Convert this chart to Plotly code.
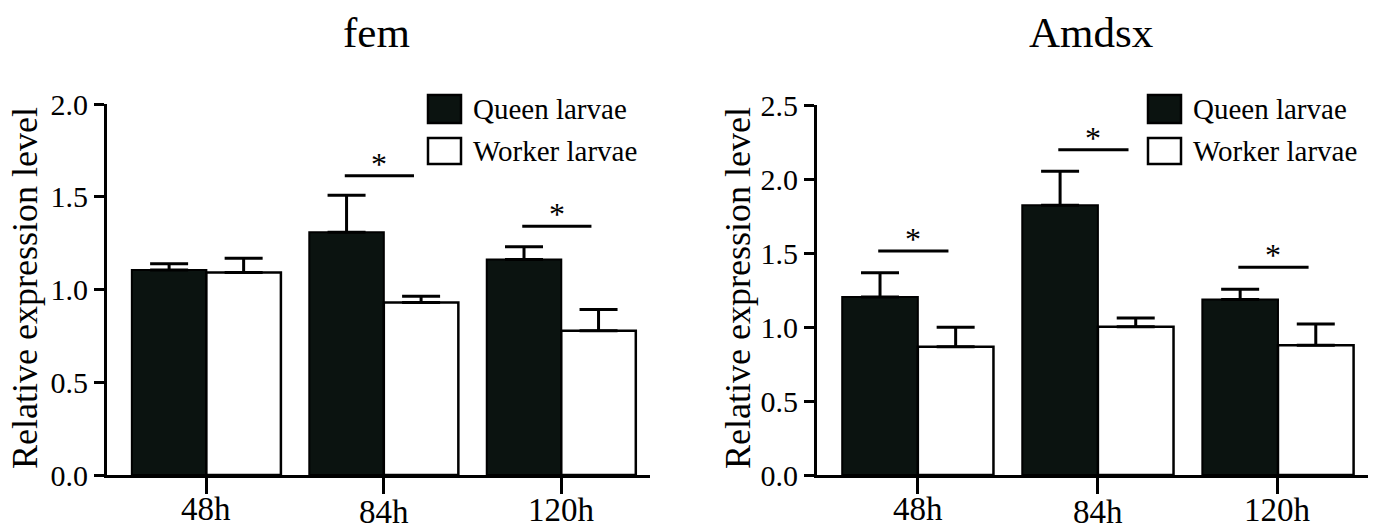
import plotly.graph_objects as go

# ---------------- data ----------------
timepoints = ["48h", "84h", "120h"]
groups = ["Queen larvae", "Worker larvae"]

fem_queen = [1.105, 1.308, 1.162]
fem_queen_err = [0.034, 0.200, 0.069]
fem_worker = [1.092, 0.930, 0.777]
fem_worker_err = [0.077, 0.034, 0.115]
fem_sig_y = [None, 1.613, 1.341]

amdsx_queen = [1.203, 1.822, 1.185]
amdsx_queen_err = [0.164, 0.230, 0.070]
amdsx_worker = [0.867, 1.002, 0.876]
amdsx_worker_err = [0.131, 0.059, 0.144]
amdsx_sig_y = [1.514, 2.198, 1.403]

fem_yticks = [0.0, 0.5, 1.0, 1.5, 2.0]
amdsx_yticks = [0.0, 0.5, 1.0, 1.5, 2.0, 2.5]

# ---------------- style ----------------
W, H = 1375, 530
FONT = "Liberation Serif"
DARK = "#0b1310"
BAR_W = 0.42
LABEL_Y = [509, 512, 510]   # pixel centres of the x tick labels
xpos = list(range(len(timepoints)))


def px_x(p):
    return p / W


def px_y(p):
    return (H - p) / H


fig = go.Figure()

panels = [
    dict(q=fem_queen, qe=fem_queen_err, w=fem_worker, we=fem_worker_err,
         sig=fem_sig_y, xa="x", ya="y"),
    dict(q=amdsx_queen, qe=amdsx_queen_err, w=amdsx_worker, we=amdsx_worker_err,
         sig=amdsx_sig_y, xa="x2", ya="y2"),
]

for p in panels:
    fig.add_trace(go.Bar(
        x=[x - BAR_W / 2 for x in xpos], y=p["q"], width=BAR_W, name=groups[0],
        marker=dict(color=DARK, line=dict(color="black", width=2)),
        error_y=dict(type="data", symmetric=False, array=p["qe"],
                     arrayminus=[0] * 3, color="black", thickness=3, width=19),
        xaxis=p["xa"], yaxis=p["ya"], showlegend=False))
    fig.add_trace(go.Bar(
        x=[x + BAR_W / 2 for x in xpos], y=p["w"], width=BAR_W, name=groups[1],
        marker=dict(color="white", line=dict(color="black", width=2.5)),
        error_y=dict(type="data", symmetric=False, array=p["we"],
                     arrayminus=[0] * 3, color="black", thickness=3, width=19),
        xaxis=p["xa"], yaxis=p["ya"], showlegend=False))
    for x, s in zip(xpos, p["sig"]):
        if s is None:
            continue
        fig.add_trace(go.Scatter(
            x=[x - 0.22, x + 0.17], y=[s, s], mode="lines",
            line=dict(color="black", width=3), xaxis=p["xa"], yaxis=p["ya"],
            showlegend=False, hoverinfo="skip"))
        fig.add_annotation(x=x - 0.025, y=s, xref=p["xa"], yref=p["ya"], text="*",
                           showarrow=False, yanchor="bottom", yshift=-8,
                           font=dict(family=FONT, size=32, color="black"))
    for x, lab, ly in zip(xpos, timepoints, LABEL_Y):
        fig.add_annotation(x=x, y=px_y(ly), xref=p["xa"], yref="paper", text=lab,
                           showarrow=False, xanchor="center", yanchor="middle",
                           font=dict(family=FONT, size=33, color="black"))

axis_common = dict(showgrid=False, zeroline=False, showline=True,
                   linecolor="black", linewidth=3, ticks="outside",
                   tickcolor="black", tickwidth=3, automargin=False)
yfont = dict(family=FONT, size=30, color="black")

fig.update_layout(
    width=W, height=H, autosize=False,
    margin=dict(l=0, r=0, t=0, b=0, pad=0, autoexpand=False),
    paper_bgcolor="white", plot_bgcolor="white",
    barmode="overlay", showlegend=False,
    xaxis=dict(domain=[px_x(107), px_x(650)], range=[-0.56, 2.5],
               tickvals=xpos, showticklabels=False, ticklen=16,
               anchor="y", **axis_common),
    yaxis=dict(domain=[px_y(475), px_y(104)], range=[0, 2.0],
               tickvals=fem_yticks, ticktext=[f"{v:.1f}" for v in fem_yticks],
               ticklen=10, anchor="x", tickfont=yfont, **axis_common),
    xaxis2=dict(domain=[px_x(817), px_x(1368)], range=[-0.56, 2.5],
                tickvals=xpos, showticklabels=False, ticklen=16,
                anchor="y2", **axis_common),
    yaxis2=dict(domain=[px_y(475), px_y(105)], range=[0, 2.5],
                tickvals=amdsx_yticks, ticktext=[f"{v:.1f}" for v in amdsx_yticks],
                ticklen=10, anchor="x2", tickfont=yfont, **axis_common),
)

for txt, cx in [("fem", 376), ("Amdsx", 1091)]:
    fig.add_annotation(x=px_x(cx), y=px_y(33), xref="paper", yref="paper",
                       text=txt, showarrow=False, xanchor="center", yanchor="middle",
                       font=dict(family=FONT, size=43, color="black"))

for cx in [25, 738]:
    fig.add_annotation(x=px_x(cx), y=px_y(288), xref="paper", yref="paper",
                       text="Relative expression level", textangle=-90,
                       showarrow=False, xanchor="center", yanchor="middle",
                       font=dict(family=FONT, size=36, color="black"))

for bx in [428, 1148]:
    for i, (g, fill) in enumerate(zip(groups, [DARK, "white"])):
        y0, y1 = (95, 123) if i == 0 else (138, 164)
        fig.add_shape(type="rect", xref="paper", yref="paper",
                      x0=px_x(bx), x1=px_x(bx + 33), y0=px_y(y1), y1=px_y(y0),
                      fillcolor=fill, line=dict(color="black", width=2.5))
        fig.add_annotation(x=px_x(bx + 43), y=px_y((y0 + y1) / 2), xref="paper",
                           yref="paper", text=g, showarrow=False,
                           xanchor="left", yanchor="middle",
                           font=dict(family=FONT, size=29, color="black"))

fig.write_html("out.html", config={"displayModeBar": False},
               post_script="document.body.style.margin='0';"
                           "document.body.style.overflow='hidden';")
